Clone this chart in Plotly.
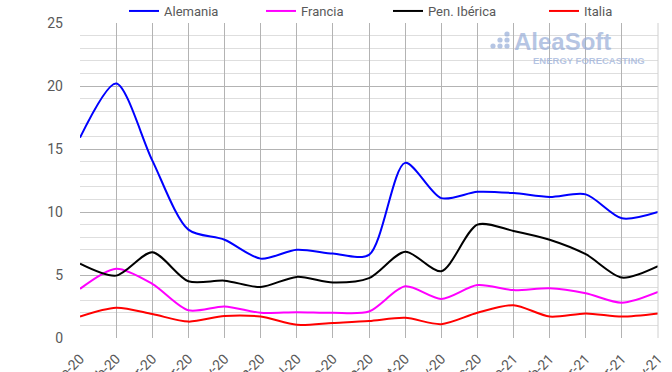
import plotly.graph_objects as go

months = ["ene-20", "feb-20", "mar-20", "abr-20", "may-20", "jun-20", "jul-20", "ago-20",
          "sep-20", "oct-20", "nov-20", "dic-20", "ene-21", "feb-21", "mar-21", "abr-21", "may-21"]

alemania = [15.9, 20.2, 14.1, 8.6, 7.8, 6.3, 7.0, 6.7, 6.6, 13.9, 11.1, 11.6, 11.5, 11.2, 11.4, 9.5, 10.0]
francia = [3.9, 5.5, 4.3, 2.2, 2.5, 2.0, 2.05, 2.0, 2.1, 4.1, 3.1, 4.2, 3.8, 3.95, 3.55, 2.8, 3.65]
iberica = [5.9, 4.95, 6.8, 4.5, 4.55, 4.05, 4.85, 4.4, 4.75, 6.85, 5.3, 9.0, 8.5, 7.8, 6.65, 4.8, 5.7]
italia = [1.7, 2.4, 1.9, 1.3, 1.75, 1.7, 1.05, 1.2, 1.35, 1.6, 1.1, 2.0, 2.6, 1.7, 1.95, 1.7, 1.95]

series = [
    ("Alemania", alemania, "#0000ff", "legend"),
    ("Francia", francia, "#ff00ff", "legend2"),
    ("Pen. Ibérica", iberica, "#000000", "legend3"),
    ("Italia", italia, "#ff0000", "legend4"),
]

W, H = 672, 372
L, R, T, B = 80, 14, 23, 34
pw = W - L - R
ph = H - T - B

fig = go.Figure()
for name, vals, color, lg in series:
    fig.add_trace(go.Scatter(
        x=months, y=vals, name=name, mode="lines",
        line=dict(color=color, width=2, shape="spline", smoothing=0.8),
        legend=lg,
    ))

font_family = "Roboto, 'Noto Sans', sans-serif"
txt_color = "#595959"

def leg(px):
    return dict(orientation="h", xref="container", yref="container",
                x=px / W, xanchor="left", y=1 - 11 / H, yanchor="middle",
                font=dict(family=font_family, size=13, color=txt_color),
                bgcolor="rgba(0,0,0,0)", itemwidth=30, tracegroupgap=0)

fig.update_layout(
    template="none",
    width=W, height=H,
    margin=dict(l=L, r=R, t=T, b=B, pad=0, autoexpand=False),
    paper_bgcolor="white", plot_bgcolor="white",
    showlegend=True,
    legend=leg(124), legend2=leg(261), legend3=leg(388), legend4=leg(544),
    xaxis=dict(
        type="category", range=[0, len(months) - 1],
        showgrid=True, gridcolor="#b3b3b3", gridwidth=1,
        tickangle=-45, tickfont=dict(family=font_family, size=14, color=txt_color),
        ticks="", showline=False, zeroline=False, automargin=False,
        ticklabelstandoff=9,
    ),
    yaxis=dict(
        range=[0, 25], dtick=5, tick0=0,
        showgrid=True, gridcolor="#b3b3b3", gridwidth=1,
        minor=dict(dtick=1, showgrid=True, gridcolor="#dedede", gridwidth=1),
        tickfont=dict(family=font_family, size=14, color=txt_color),
        ticks="", showline=False, zeroline=False, automargin=False,
        ticklabelstandoff=16,
    ),
)

# plot area border (right edge)
fig.add_shape(type="line", xref="paper", yref="paper", x0=1, x1=1, y0=0, y1=1,
              line=dict(color="#d0d0d0", width=1))

# AleaSoft watermark
wm = "rgba(150,172,215,0.7)"
fig.add_annotation(text="<b>AleaSoft</b>", xref="paper", yref="paper",
                   x=(512 - L) / pw, xanchor="left", y=1 - (41 - T) / ph, yanchor="middle",
                   showarrow=False, font=dict(family="Liberation Sans, Arial", size=24, color=wm))
fig.add_annotation(text="<b>ENERGY FORECASTING</b>", xref="paper", yref="paper",
                   x=(647 - L) / pw, xanchor="right", y=1 - (60 - T) / ph, yanchor="middle",
                   showarrow=False, font=dict(family="Liberation Sans, Arial", size=9.5, color=wm))
dots = [(507, 34), (500, 40), (507, 40), (493, 46), (500, 46), (507, 46)]
for dx, dy in dots:
    cx = (dx - L) / pw
    cy = 1 - (dy - T) / ph
    rx = 2.6 / pw
    ry = 2.6 / ph
    fig.add_shape(type="circle", xref="paper", yref="paper",
                  x0=cx - rx, x1=cx + rx, y0=cy - ry, y1=cy + ry,
                  fillcolor=wm, line=dict(width=0))

fig.write_html("out.html", config={"displayModeBar": False},
               post_script="document.body.style.margin='0';document.body.style.overflow='hidden';")
